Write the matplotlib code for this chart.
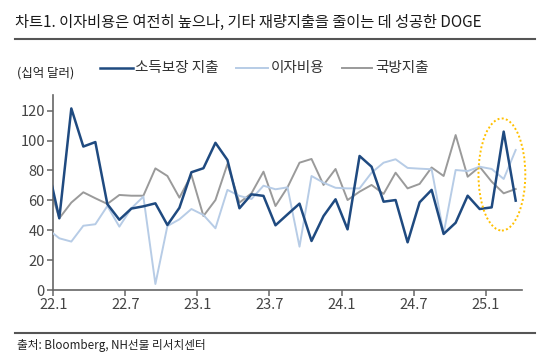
import matplotlib
matplotlib.use("Agg")
import matplotlib.pyplot as plt
from matplotlib.patches import Ellipse
from matplotlib.lines import Line2D
import numpy as np

plt.rcParams['font.family'] = ['Noto Sans CJK KR', 'DejaVu Sans']

# Monthly data, 2021-12 .. 2025-03 (first point sits just outside the axis)
months = ["21.12"] + [f"{y}.{m}" for y in (22, 23, 24) for m in range(1, 13)] + ["25.1", "25.2", "25.3"]
income_security = [84, 48, 121.5, 96, 99, 57.5, 47, 54.5, 56, 58, 43.5, 55, 78.8, 81.5, 98.5, 87,
                   54.7, 64, 63, 43.3, 50.6, 57.8, 32.8, 49.5, 60.7, 40.6, 89.7, 82.5, 59.1, 60.2,
                   31.9, 58.7, 67, 37.5, 45, 63.1, 54.2, 55.3, 106, 59.8]
interest = [41, 34.6, 32.4, 43, 44, 56.2, 42.4, 54.7, 62.5, 4, 42.8, 47.3, 54.2, 50.2, 41.3, 67,
            63, 60.9, 69.8, 67.4, 68.7, 29, 76.3, 71.8, 68.4, 68, 68, 78.5, 85.2, 87.5,
            81.7, 81.2, 80.8, 37.9, 80.3, 79.6, 82.5, 81, 74.3, 93.7]
defense = [74, 48, 58.5, 65.4, 61.4, 57.6, 63.6, 63.1, 63.1, 81.4, 76.3, 61.8, 77, 49.5, 60.2, 84.3,
           58.5, 64.7, 79.2, 56.2, 68.7, 85.2, 87.7, 70.3, 81, 60.2, 65.8, 70.3, 64.3, 78.5,
           68, 71, 82, 76.3, 103.7, 75.8, 82.5, 72.5, 64.7, 67.6]
tick_labels = ["22.1", "22.7", "23.1", "23.7", "24.1", "24.7", "25.1"]
series_names = ["소득보장 지출", "이자비용", "국방지출"]

W, H = 544, 364
fig = plt.figure(figsize=(W / 100, H / 100), dpi=100)
ax = fig.add_axes([53.3 / W, 1 - 290 / H, (521.7 - 53.3) / W, (290 - 95) / H])

x = np.arange(len(months)) - 0.5  # 2022-01 starts at 0, points centered in their month
c_navy, c_light, c_gray = "#1F4A80", "#B7CCE6", "#9A9A9A"
ax.plot(x, defense, color=c_gray, lw=1.4, zorder=2)
ax.plot(x, interest, color=c_light, lw=1.4, zorder=3)
ax.plot(x, income_security, color=c_navy, lw=1.8, zorder=4)

ax.set_xlim(0, 39)
ax.set_ylim(0, 130.5)
ax.set_xticks(np.arange(0, 37, 6))
ax.set_xticklabels(tick_labels)
ax.set_yticks(np.arange(0, 121, 20))
for s in ("top", "right"):
    ax.spines[s].set_visible(False)
for s in ("left", "bottom"):
    ax.spines[s].set_color("#666666")
    ax.spines[s].set_linewidth(1.2)
ax.tick_params(axis="both", direction="out", length=4, width=1.1, color="#666666",
               labelsize=10.5, labelcolor="#444444")
ax.tick_params(axis="x", pad=2)
ax.tick_params(axis="y", pad=2)

ell = Ellipse((37.35, 77.3), 3.9, 75, fill=False, edgecolor="#FFC000", lw=1.4,
              linestyle=(0, (1, 1.2)), clip_on=False, zorder=5)
ax.add_patch(ell)

# Title and decorations
fig.text(15 / W, 1 - 22 / H, "차트1. 이자비용은 여전히 높으나, 기타 재량지출을 줄이는 데 성공한 DOGE",
         fontsize=11, color="#1a1a1a", va="center", ha="left", fontweight="medium")
fig.add_artist(Line2D([15 / W, 535 / W], [1 - 39 / H, 1 - 39 / H], color="#555555", lw=1.5))
fig.add_artist(Line2D([15 / W, 535 / W], [1 - 333 / H, 1 - 333 / H], color="#555555", lw=1.5))
fig.text(17 / W, 1 - 345 / H, "출처: Bloomberg, NH선물 리서치센터", fontsize=8.4, color="#222222",
         va="center", ha="left")
fig.text(17 / W, 1 - 73 / H, "(십억 달러)", fontsize=9, color="#222222", va="center", ha="left")

# Legend
leg_items = [(100, 133, 135, c_navy, 1.8), (236, 268, 271, c_light, 1.4), (342, 372, 375, c_gray, 1.4)]
for (x0, x1, xt, col, lw), name in zip(leg_items, series_names):
    fig.add_artist(Line2D([x0 / W, x1 / W], [1 - 68 / H, 1 - 68 / H], color=col, lw=lw))
    fig.text(xt / W, 1 - 68 / H, name, fontsize=10.5, color="#333333", va="center", ha="left")

fig.savefig("out.png", dpi=100)
